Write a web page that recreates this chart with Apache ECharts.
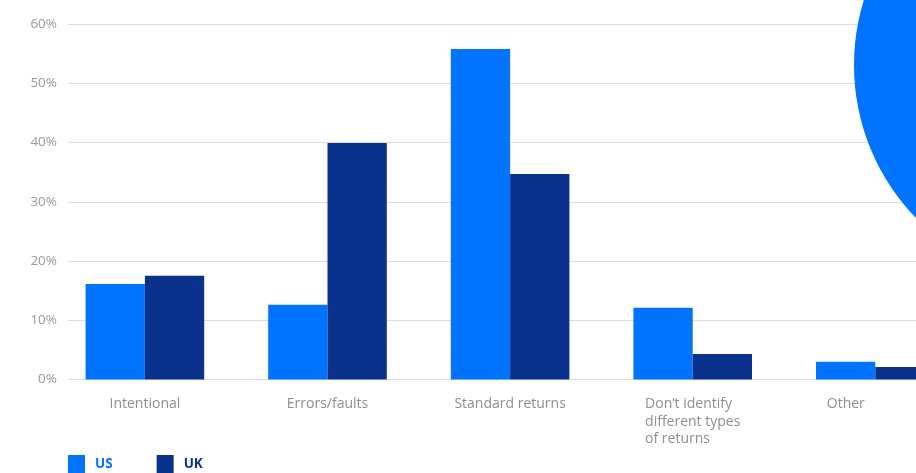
<!DOCTYPE html>
<html>
<head>
<meta charset="utf-8">
<script src="https://cdn.jsdelivr.net/npm/echarts@6/dist/echarts.min.js"></script>
<style>html,body{margin:0;padding:0;background:#fff}#c{width:916px;height:473px}</style>
</head>
<body>
<div id="c"></div>
<script>
const categories = ['Intentional', 'Errors/faults', 'Standard returns', 'Don\u2019t identify\ndifferent types\nof returns', 'Other'];
const seriesNames = ['US', 'UK'];
const usValues = [16.1, 12.6, 55.8, 12.1, 3.0];
const ukValues = [17.5, 39.9, 34.7, 4.3, 2.1];
const yTicks = [0, 10, 20, 30, 40, 50, 60];

const US_COLOR = '#0074ff';
const UK_COLOR = '#0a318c';
const FONT = 'Open Sans';
const LABEL_COLOR = '#8e8e8e';

const chart = echarts.init(document.getElementById('c'));
const gridTop = 24, gridBottom = 93.5;
const labelStyle = { align: 'left', color: LABEL_COLOR, fontSize: 14, fontFamily: FONT, lineHeight: 17.5 };
chart.setOption({
  animation: false,
  textStyle: { fontFamily: FONT },
  grid: [
    { left: 53.6, width: 913, top: gridTop, bottom: gridBottom, outerBoundsMode: 'none', containLabel: false },
    { left: 68, right: 0, top: gridTop, bottom: gridBottom, outerBoundsMode: 'none', containLabel: false }
  ],
  xAxis: [
    {
      type: 'category', gridIndex: 0, data: categories,
      axisLine: { show: false }, axisTick: { show: false },
      axisLabel: {
        interval: 0, color: LABEL_COLOR, fontSize: 14, fontFamily: FONT, margin: 16, lineHeight: 17.5,
        formatter: (v, i) => {
          const tag = i === categories.length - 1 ? 'last' : 'a';
          return v.split('\n').map(s => '{' + tag + '|' + s + '}').join('\n');
        },
        rich: {
          a: labelStyle,
          last: Object.assign({}, labelStyle, { padding: [0, 59, 0, 0] })
        }
      }
    },
    { type: 'category', gridIndex: 1, data: categories, show: false }
  ],
  yAxis: [
    { type: 'value', gridIndex: 0, min: 0, max: 60, interval: 10, show: false, splitLine: { show: false } },
    {
      type: 'value', gridIndex: 1, min: yTicks[0], max: yTicks[yTicks.length - 1], interval: 10,
      axisLine: { show: false }, axisTick: { show: false },
      axisLabel: { formatter: '{value}%', color: '#9a9a9a', fontSize: 13.5, fontFamily: FONT, margin: 11 },
      splitLine: { lineStyle: { color: '#dcdcdc', width: 1 } }
    }
  ],
  legend: {
    left: 68, top: 455, padding: 0, itemWidth: 17, itemHeight: 18, itemGap: 44, icon: 'rect',
    textStyle: { fontSize: 13.5, fontWeight: 'bold', fontFamily: FONT, padding: [0, 0, 0, 5] },
    data: [
      { name: seriesNames[0], textStyle: { color: US_COLOR } },
      { name: seriesNames[1], textStyle: { color: UK_COLOR } }
    ]
  },
  series: [
    { name: seriesNames[0], type: 'bar', xAxisIndex: 0, yAxisIndex: 0, data: usValues,
      itemStyle: { color: US_COLOR }, barGap: '0%', barWidth: 59.3, z: 3 },
    { name: seriesNames[1], type: 'bar', xAxisIndex: 0, yAxisIndex: 0, data: ukValues,
      itemStyle: { color: UK_COLOR }, barGap: '0%', barWidth: 59.3, z: 3 }
  ],
  graphic: [
    { type: 'circle', shape: { cx: 1074, cy: 65, r: 220 }, style: { fill: US_COLOR }, z: 100 }
  ]
});
</script>
</body>
</html>
